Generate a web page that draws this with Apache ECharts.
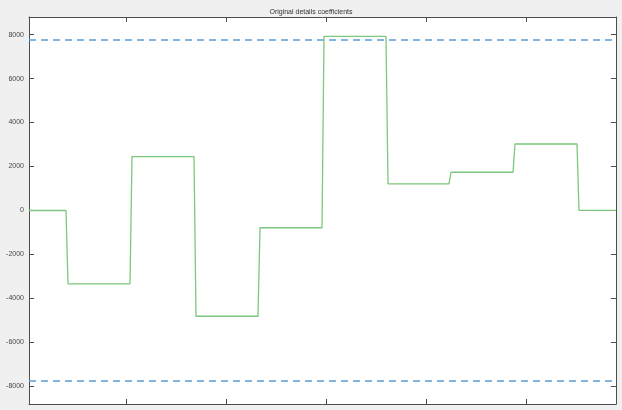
<!DOCTYPE html>
<html>
<head>
<meta charset="utf-8">
<script src="https://cdn.jsdelivr.net/npm/echarts@6/dist/echarts.min.js"></script>
<style>
  html, body { margin: 0; padding: 0; background: #f0f0f0; }
  #main { width: 622px; height: 410px; }
</style>
</head>
<body>
<div id="main"></div>
<script>
// step signal (sample index, coefficient value)
var sampleX = [3, 40, 42, 104, 106, 168, 170, 232, 234, 296, 298, 360, 362, 423, 425, 487, 489, 551, 553, 590];
var coefY  = [0, 0, -3340, -3340, 2450, 2450, -4810, -4810, -785, -785, 7920, 7920, 1210, 1210, 1740, 1740, 3025, 3025, 10, 10];
// threshold lines
var thrX = [3, 590];
var thrHigh = 7755;
var thrLow = -7755;
var yTicks = [-8000, -6000, -4000, -2000, 0, 2000, 4000, 6000, 8000];
var xTicks = [100, 200, 300, 400, 500];

var chart = echarts.init(document.getElementById('main'));

function pairs(xs, ys) {
  var out = [];
  for (var i = 0; i < xs.length; i++) {
    out.push([xs[i], ys[i]]);
  }
  return out;
}

var axisLineStyle = { color: '#4d4d4d', width: 1 };

// hidden labels keep the ticks on the mirror axes
function mirrorX(pos) {
  return {
    type: 'value', min: 3, max: 590, position: pos,
    axisLine: { show: true, onZero: false, lineStyle: axisLineStyle },
    axisTick: { show: true, inside: true, length: 5, customValues: xTicks, lineStyle: axisLineStyle },
    axisLabel: { show: true, customValues: xTicks, color: 'rgba(0,0,0,0)', fontSize: 7 },
    splitLine: { show: false }
  };
}

var option = {
  backgroundColor: '#f0f0f0',
  animation: false,
  title: {
    text: 'Original details coefficients',
    left: 'center',
    top: 4,
    textStyle: { fontSize: 7, fontWeight: 'normal', color: '#333', fontFamily: 'Liberation Sans' }
  },
  grid: {
    left: 29,
    right: 6,
    top: 17,
    bottom: 6,
    containLabel: false,
    outerBoundsMode: 'none',
    show: true,
    backgroundColor: '#ffffff',
    borderWidth: 0
  },
  xAxis: [mirrorX('bottom'), mirrorX('top')],
  yAxis: [
    {
      type: 'value',
      min: -8800,
      max: 8800,
      position: 'left',
      axisLine: { show: true, onZero: false, lineStyle: axisLineStyle },
      axisTick: { show: true, inside: true, length: 5, customValues: yTicks, lineStyle: axisLineStyle },
      axisLabel: {
        show: true,
        customValues: yTicks,
        fontSize: 7,
        color: '#444',
        margin: 5,
        fontFamily: 'Liberation Sans',
        formatter: function (v) { return String(v); }
      },
      splitLine: { show: false }
    },
    {
      type: 'value',
      min: -8800,
      max: 8800,
      position: 'right',
      axisLine: { show: true, onZero: false, lineStyle: axisLineStyle },
      axisTick: { show: true, inside: true, length: 5, customValues: yTicks, lineStyle: axisLineStyle },
      axisLabel: { show: true, customValues: yTicks, color: 'rgba(0,0,0,0)', fontSize: 7 },
      splitLine: { show: false }
    }
  ],
  series: [
    {
      type: 'line',
      data: pairs(thrX, [thrHigh, thrHigh]),
      symbol: 'none',
      lineStyle: { color: '#5a9fd6', width: 1.5, type: [7, 5] },
      z: 2
    },
    {
      type: 'line',
      data: pairs(thrX, [thrLow, thrLow]),
      symbol: 'none',
      lineStyle: { color: '#5a9fd6', width: 1.5, type: [7, 5] },
      z: 2
    },
    {
      type: 'line',
      data: pairs(sampleX, coefY),
      symbol: 'none',
      lineStyle: { color: '#7cc87c', width: 1.3 },
      z: 3
    }
  ]
};

chart.setOption(option);
</script>
</body>
</html>
